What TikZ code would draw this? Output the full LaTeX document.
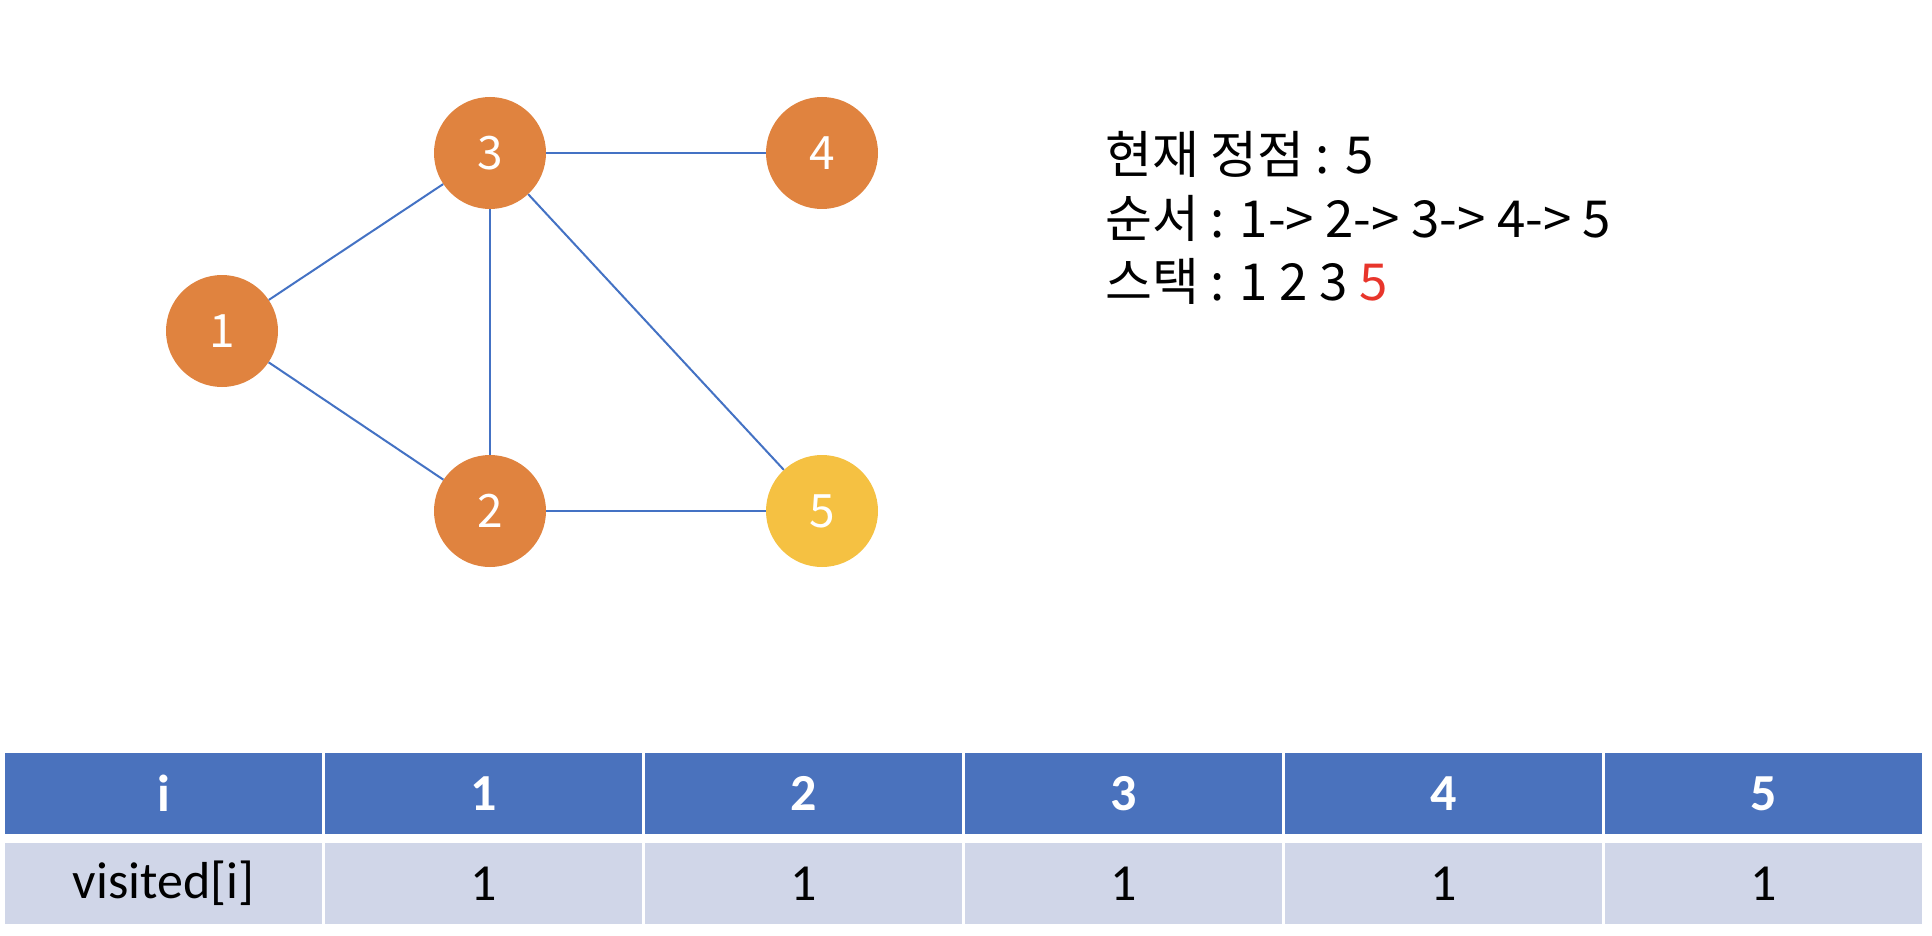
\documentclass[tikz,border=0pt]{standalone}
\usepackage{fontspec}
\setmainfont{Carlito}
\newfontfamily\krfont{Noto Sans CJK KR}
\definecolor{edgeblue}{HTML}{4472C4}
\definecolor{vorange}{HTML}{E0833F}
\definecolor{vyellow}{HTML}{F5C142}
\definecolor{hdrblue}{HTML}{4A72BD}
\definecolor{rowgray}{HTML}{D0D6E8}
\definecolor{stackred}{HTML}{E8352B}
\tikzset{
  vert/.style={circle, fill=vorange, minimum size=112pt, inner sep=0pt, text=white, font=\krfont\fontsize{46}{50}\selectfont},
  curv/.style={vert, fill=vyellow},
  edge/.style={draw=edgeblue, line width=2pt},
  info/.style={anchor=base west, inner sep=0pt, font=\krfont\fontsize{51}{56}\selectfont},
  hcell/.style={fill=hdrblue, minimum width=317pt, minimum height=81pt, inner sep=0pt, text=white, font=\bfseries\fontsize{52}{56}\selectfont},
  dcell/.style={fill=rowgray, minimum width=317pt, minimum height=81pt, inner sep=0pt, text=black, font=\fontsize{52}{56}\selectfont},
}
\begin{document}
\begin{tikzpicture}[x=1pt,y=-1pt]
\useasboundingbox[fill=white] (0,0) rectangle (1932,936);
% graph
\node[vert] (n1) at (222,331) {1};
\node[vert] (n3) at (490,153) {3};
\node[vert] (n4) at (822,153) {4};
\node[vert] (n2) at (490,511) {2};
\node[curv] (n5) at (822,511) {5};
\draw[edge] (n1) -- (n3);
\draw[edge] (n1) -- (n2);
\draw[edge] (n3) -- (n4);
\draw[edge] (n3) -- (n2);
\draw[edge] (n3) -- (n5);
\draw[edge] (n2) -- (n5);
% info text
\node[info] (t1) at (1105,174) {현재 정점 : 5};
\node[info] (t2) at (1105,237) {순서 : 1-> 2-> 3-> 4-> 5};
\node[info] (t3) at (1105,300) {스택 : 1 2 3 \textcolor{stackred}{5}};
% table
\node[hcell] (h0) at (163.5,793.5) {i};
\node[hcell] (h1) at (483.5,793.5) {1};
\node[hcell] (h2) at (803.5,793.5) {2};
\node[hcell] (h3) at (1123.5,793.5) {3};
\node[hcell] (h4) at (1443.5,793.5) {4};
\node[hcell] (h5) at (1763.5,793.5) {5};
\node[dcell] (d0) at (163.5,883.5) {visited[i]};
\node[dcell] (d1) at (483.5,883.5) {1};
\node[dcell] (d2) at (803.5,883.5) {1};
\node[dcell] (d3) at (1123.5,883.5) {1};
\node[dcell] (d4) at (1443.5,883.5) {1};
\node[dcell] (d5) at (1763.5,883.5) {1};
\end{tikzpicture}
\end{document}
